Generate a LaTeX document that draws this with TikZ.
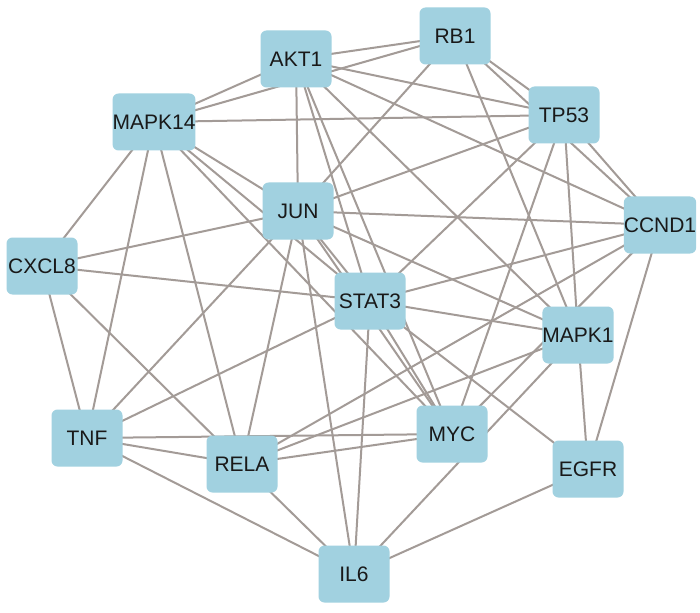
\documentclass[tikz,border=0pt]{standalone}
\usepackage{fontspec}
\setmainfont{Liberation Sans}
\usetikzlibrary{backgrounds}
\definecolor{nodefill}{RGB}{161,209,224}
\definecolor{edgecol}{RGB}{163,155,151}
\definecolor{txtcol}{RGB}{25,25,25}
\begin{document}
\begin{tikzpicture}[x=1pt,y=-1pt,
  gene/.style={fill=nodefill, rounded corners=6pt, minimum width=71pt, minimum height=57pt,
    inner sep=0pt, font=\fontsize{21}{25}\selectfont, text=txtcol},
  link/.style={draw=edgecol, line width=2pt}]
\useasboundingbox (0,0) rectangle (700,612);
\node[gene] (AKT1)   at (296,59)  {AKT1};
\node[gene] (RB1)    at (455,36)  {RB1};
\node[gene] (TP53)   at (564,115) {TP53};
\node[gene] (MAPK14) at (154,122) {MAPK14};
\node[gene] (JUN)    at (298,211) {JUN};
\node[gene] (CCND1)  at (660,225) {CCND1};
\node[gene] (CXCL8)  at (42,266)  {CXCL8};
\node[gene] (STAT3)  at (370,301) {STAT3};
\node[gene] (MAPK1)  at (578,335) {MAPK1};
\node[gene] (TNF)    at (87,438)  {TNF};
\node[gene] (RELA)   at (242,464) {RELA};
\node[gene] (MYC)    at (452,434) {MYC};
\node[gene] (EGFR)   at (588,469) {EGFR};
\node[gene] (IL6)    at (354,574) {IL6};
\begin{scope}[on background layer]
\fill[white] (0,0) rectangle (700,612);
\foreach \a/\b in {AKT1/MAPK14, AKT1/RB1, AKT1/TP53, AKT1/CCND1, AKT1/JUN, AKT1/STAT3, AKT1/MYC, AKT1/MAPK1,
  RB1/MAPK14, RB1/JUN, RB1/TP53, RB1/CCND1, RB1/MAPK1,
  MAPK14/TP53, MAPK14/CXCL8, MAPK14/TNF, MAPK14/RELA, MAPK14/JUN, MAPK14/STAT3, MAPK14/MYC,
  CXCL8/TNF, CXCL8/RELA, CXCL8/JUN, CXCL8/STAT3,
  TNF/JUN, TNF/STAT3, TNF/MYC, TNF/RELA, TNF/IL6,
  RELA/JUN, RELA/IL6, RELA/CCND1, RELA/MAPK1, RELA/MYC,
  IL6/JUN, IL6/STAT3, IL6/MAPK1, IL6/EGFR,
  EGFR/MAPK1, EGFR/CCND1, EGFR/STAT3,
  TP53/STAT3, TP53/MYC, TP53/MAPK1, TP53/CCND1, TP53/JUN,
  JUN/CCND1, JUN/MAPK1, JUN/STAT3, JUN/MYC,
  STAT3/CCND1, STAT3/MAPK1, STAT3/MYC, CCND1/MYC}
  \draw[link] (\a.center) -- (\b.center);
\end{scope}
\end{tikzpicture}
\end{document}
